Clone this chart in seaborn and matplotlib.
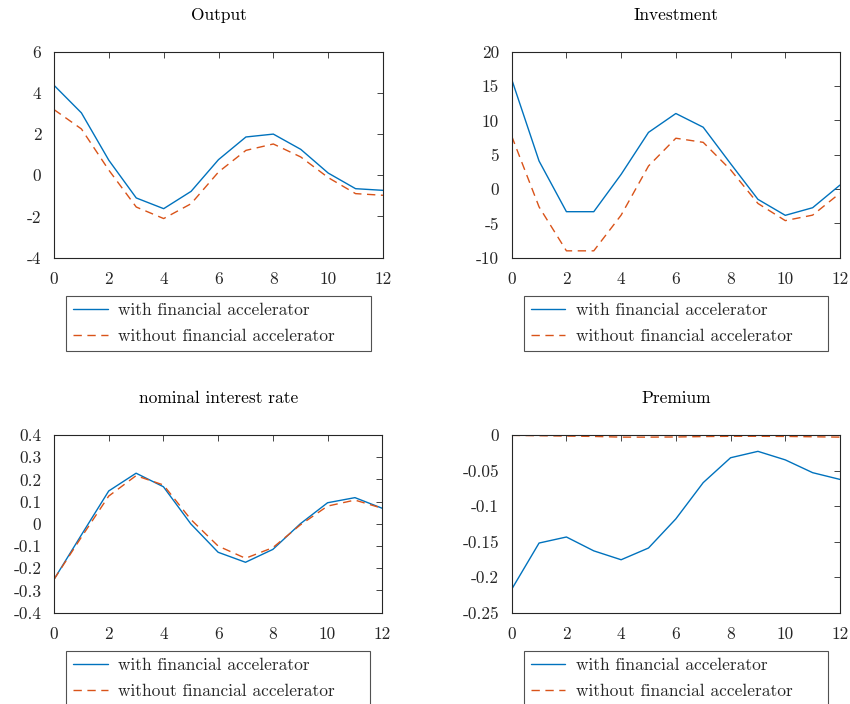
import numpy as np
import pandas as pd
import matplotlib
matplotlib.use("Agg")
import matplotlib.pyplot as plt
import seaborn as sns

t = list(range(13))

output_with = [4.37, 3.03, 0.73, -1.10, -1.62, -0.78, 0.76, 1.86, 2.00, 1.26, 0.11, -0.65, -0.73]
output_without = [3.19, 2.25, 0.25, -1.54, -2.10, -1.38, 0.16, 1.21, 1.52, 0.89, -0.11, -0.89, -0.97]

invest_with = [15.97, 4.08, -3.3, -3.3, 2.14, 8.25, 11.0, 9.0, 3.7, -1.5, -3.83, -2.72, 0.58]
invest_without = [7.7, -2.6, -9.0, -9.0, -3.8, 3.35, 7.4, 6.8, 2.8, -2.1, -4.6, -3.8, -0.6]

rate_with = [-0.25, -0.05, 0.148, 0.228, 0.167, 0.0, -0.128, -0.173, -0.115, 0.0, 0.095, 0.118, 0.07]
rate_without = [-0.25, -0.06, 0.125, 0.217, 0.175, 0.02, -0.10, -0.155, -0.107, -0.005, 0.08, 0.107, 0.07]

prem_with = [-0.217, -0.152, -0.1435, -0.163, -0.1755, -0.159, -0.118, -0.067, -0.032, -0.023, -0.035, -0.053, -0.0625]
prem_without = [-0.0005, -0.001, -0.0015, -0.002, -0.003, -0.003, -0.0028, -0.0022, -0.0018, -0.0018, -0.002, -0.0025, -0.003]

titles = ["Output", "Investment", "nominal interest rate", "Premium"]
series_names = ["with financial accelerator", "without financial accelerator"]

yticks = [
    ([-4, -2, 0, 2, 4, 6], ["-4", "-2", "0", "2", "4", "6"]),
    ([-10, -5, 0, 5, 10, 15, 20], ["-10", "-5", "0", "5", "10", "15", "20"]),
    ([-0.4, -0.3, -0.2, -0.1, 0, 0.1, 0.2, 0.3, 0.4],
     ["-0.4", "-0.3", "-0.2", "-0.1", "0", "0.1", "0.2", "0.3", "0.4"]),
    ([-0.25, -0.2, -0.15, -0.1, -0.05, 0], ["-0.25", "-0.2", "-0.15", "-0.1", "-0.05", "0"]),
]
xticks = [0, 2, 4, 6, 8, 10, 12]

sns.set_theme(style="white")
plt.rcParams["font.family"] = ["cmr10", "DejaVu Serif"]
plt.rcParams["axes.unicode_minus"] = False
plt.rcParams["axes.formatter.use_mathtext"] = True

fig = plt.figure(figsize=(8.5, 7.04), dpi=100)
W, H = 850, 704
boxes = [
    (54, 51.7, 383, 257.7),
    (511.7, 51.7, 840, 257.7),
    (54, 435, 382.3, 612.7),
    (511.7, 435, 840, 612.7),
]
data = [
    (output_with, output_without),
    (invest_with, invest_without),
    (rate_with, rate_without),
    (prem_with, prem_without),
]
blue = "#0072BD"
red = "#D95319"
grey = "#262626"

for i, (box, (yw, yo)) in enumerate(zip(boxes, data)):
    l, tp, r, b = box
    ax = fig.add_axes([l / W, 1 - b / H, (r - l) / W, (b - tp) / H])
    df = pd.DataFrame({"t": t * 2, "v": list(yw) + list(yo),
                       "s": [series_names[0]] * 13 + [series_names[1]] * 13})
    sns.lineplot(data=df[df.s == series_names[0]], x="t", y="v", ax=ax,
                 color=blue, lw=1.0, label=series_names[0])
    sns.lineplot(data=df[df.s == series_names[1]], x="t", y="v", ax=ax,
                 color=red, lw=1.0, linestyle=(0, (6, 4)), label=series_names[1])
    ax.set_xlim(0, 12)
    yt, yl = yticks[i]
    ax.set_ylim(yt[0], yt[-1])
    ax.set_xticks(xticks)
    ax.set_xticklabels([str(x) for x in xticks])
    ax.set_yticks(yt)
    ax.set_yticklabels(yl)
    ax.set_xlabel("")
    ax.set_ylabel("")
    ax.tick_params(direction="in", length=4, width=0.6, top=True, right=True,
                   labelsize=12.5, colors=grey, pad=9)
    ax.tick_params(axis="x", pad=10)
    for sp in ax.spines.values():
        sp.set_visible(True)
        sp.set_color(grey)
        sp.set_linewidth(0.8)
    ax.set_title(titles[i], fontsize=12.5, pad=23, color="black")
    # legend below axes
    lx0 = l + 12
    lw_ = (r - l) - 24
    ltop = b + 38.5
    leg = ax.legend(loc="upper left",
                    bbox_to_anchor=(lx0 / W, 1 - ltop / H, lw_ / W, 0.0),
                    bbox_transform=fig.transFigure, mode="expand",
                    fontsize=12.5, frameon=True, fancybox=False,
                    handlelength=2.0, handletextpad=0.6, borderpad=0.4,
                    borderaxespad=0, labelspacing=0.58)
    leg.get_frame().set_edgecolor(grey)
    leg.get_frame().set_linewidth(0.8)
    for txt in leg.get_texts():
        txt.set_color(grey)

fig.savefig("out.png", dpi=100)
